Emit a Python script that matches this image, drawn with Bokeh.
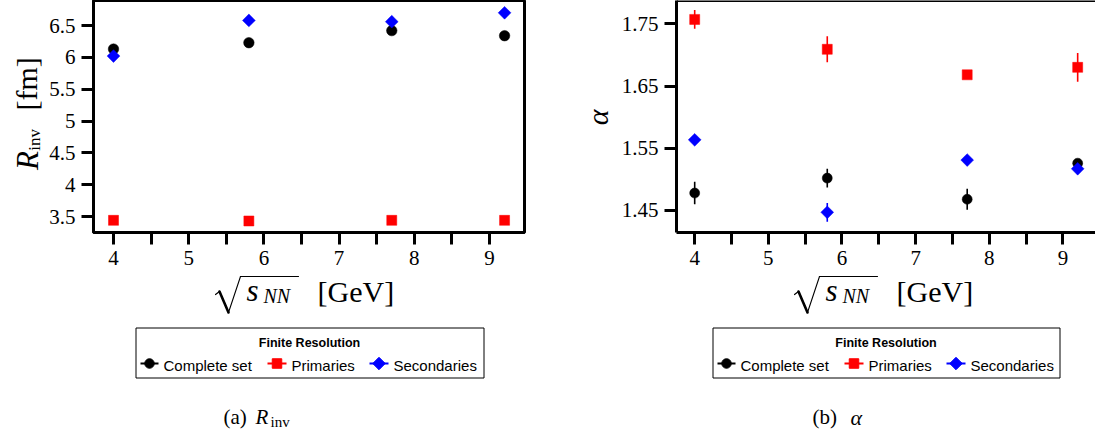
import math

from bokeh.core.properties import value
from bokeh.embed import file_html
from bokeh.layouts import column, row
from bokeh.models import FixedTicker, Range1d, Span
from bokeh.plotting import figure
from bokeh.resources import INLINE

# ---------------------------------------------------------------- data
energies = [4.0, 5.8, 7.7, 9.2]  # sqrt(s_NN) in GeV

rinv_complete = [6.13, 6.23, 6.42, 6.34]
rinv_primaries = [3.44, 3.43, 3.44, 3.44]
rinv_secondaries = [6.02, 6.58, 6.56, 6.70]

alpha_complete = [1.478, 1.502, 1.468, 1.526]
alpha_complete_err = [0.018, 0.015, 0.017, 0.005]
alpha_primaries = [1.757, 1.709, 1.668, 1.680]
alpha_primaries_err = [0.015, 0.021, 0.003, 0.023]
alpha_secondaries = [1.5635, 1.447, 1.531, 1.517]
alpha_secondaries_err = [0.003, 0.015, 0.004, 0.004]

series_names = ["Complete set", "Primaries", "Secondaries"]
series_colors = ["#000000", "#ff0000", "#0000ff"]
legend_title = "Finite Resolution"

x_ticks = [4, 5, 6, 7, 8, 9]
x_tick_labels = ["4", "5", "6", "7", "8", "9"]
x_minor_ticks = [4.5, 5.5, 6.5, 7.5, 8.5, 9.5]
rinv_ticks = [3.5, 4.0, 4.5, 5.0, 5.5, 6.0, 6.5]
rinv_tick_labels = ["3.5", "4", "4.5", "5", "5.5", "6", "6.5"]
alpha_ticks = [1.45, 1.55, 1.65, 1.75]
alpha_tick_labels = ["1.45", "1.55", "1.65", "1.75"]

# ---------------------------------------------------------------- layout constants
H = 436          # page height
TOP_H = 274      # height of the plotting row (frame + tick labels)
SERIF = "Liberation Serif"
SANS = "Liberation Sans"
BASELINE_LIFT = 0.24   # em offset so that the glyph baseline lands on the given y


def Y(y):
    """Page y (from the top) to the upward data axis of the pixel canvases."""
    return H - y


def pixel_fig(x0, x1, y0, y1):
    """A bare canvas whose data coordinates are page pixels."""
    p = figure(width=x1 - x0, height=y1 - y0,
               x_range=Range1d(x0, x1), y_range=Range1d(Y(y1), Y(y0)),
               x_axis_type=None, y_axis_type=None,
               output_backend="svg", toolbar_location=None,
               min_border_left=0, min_border_right=0,
               min_border_top=0, min_border_bottom=0)
    p.grid.visible = False
    p.outline_line_color = None
    return p


def txt(p, x, y, s, size, font=SERIF, style="normal", align="left"):
    """Horizontal text with its baseline at page y."""
    p.text(x=[x], y=[Y(y - BASELINE_LIFT * size)], text=[s], text_font=value(font),
           text_font_size=value(f"{size}px"), text_font_style=style,
           text_align=align, text_baseline="alphabetic", text_color="black")


def vtxt(p, x, y, s, size, style="normal"):
    """Text reading bottom-to-top around (x, y)."""
    p.text(x=[x], y=[Y(y)], text=[s], text_font=value(SERIF),
           text_font_size=value(f"{size}px"), text_font_style=style,
           text_align="center", text_baseline="middle", angle=math.pi / 2,
           text_color="black")


def x_label(p, ox):
    # radical sign, s_NN under it, then the unit
    p.segment(x0=[ox, ox + 4, ox + 13, ox + 25], y0=[Y(294), Y(291), Y(312), Y(276)],
              x1=[ox + 4, ox + 13, ox + 25, ox + 83], y1=[Y(291), Y(312), Y(276), Y(276)],
              line_width=[1.2, 2.6, 1.1, 1.2], line_color="black", line_cap="round")
    txt(p, ox + 31, 297, "s", 31, style="italic")
    txt(p, ox + 48, 300, "NN", 20, style="italic")
    txt(p, ox + 102, 298, "[GeV]", 30)


def legend(p, left, top, width):
    bottom = top + 50
    p.quad(left=[left + 0.5], right=[left + width + 0.5], top=[Y(top + 0.5)],
           bottom=[Y(bottom + 0.5)], fill_color=None, line_color="black", line_width=1)
    txt(p, left + width / 2, top + 18, legend_title, 12.5, font=SANS, style="bold",
        align="center")
    kinds = [("circle", 9.5, 0.0), ("square", 9.5, 0.0), ("square", 8.8, math.pi / 4)]
    line_spans = [(5, 23), (132, 151), (234, 253)]
    text_x = [28, 156, 258]
    cy = top + 36
    for name, color, (marker, size, ang), (a, b), tx in zip(
            series_names, series_colors, kinds, line_spans, text_x):
        p.segment(x0=[left + a], y0=[Y(cy)], x1=[left + b], y1=[Y(cy)],
                  line_color=color, line_width=2)
        p.scatter(x=[left + (a + b) / 2], y=[Y(cy)], marker=marker, size=size,
                  angle=ang, fill_color=color, line_color=color)
        txt(p, left + tx, cy + 6, name, 15, font=SANS)


def main_fig(width, x_range, y_range, border_left, border_right, yticks, ylabels):
    p = figure(width=width, height=TOP_H, x_range=x_range, y_range=y_range,
               output_backend="svg", toolbar_location=None,
               min_border_left=border_left, min_border_right=border_right,
               min_border_top=0, min_border_bottom=TOP_H - 232)
    p.grid.visible = False

    xa = p.xaxis[0]
    xa.ticker = FixedTicker(ticks=x_ticks, minor_ticks=x_minor_ticks)
    xa.major_label_overrides = dict(zip(x_ticks, x_tick_labels))
    ya = p.yaxis[0]
    ya.ticker = FixedTicker(ticks=yticks, minor_ticks=[])
    ya.major_label_overrides = dict(zip(yticks, ylabels))

    for ax in (xa, ya):
        ax.axis_line_width = 3
        ax.axis_line_color = "black"
        ax.major_tick_line_width = 3
        ax.minor_tick_line_width = 3
        ax.major_tick_out = 12
        ax.major_tick_in = 0
        ax.minor_tick_out = 12
        ax.minor_tick_in = 0
        ax.major_label_text_font = SERIF
        ax.major_label_text_font_size = "21px"
        ax.major_label_text_color = "black"
        ax.major_label_standoff = 6
    return p


def draw_series(p, ys, errs, sizes):
    circle_size, square_size, diamond_size = sizes
    kinds = [("circle", circle_size, 0.0), ("square", square_size, 0.0),
             ("square", diamond_size, math.pi / 4)]
    for vals, err, color, (marker, size, ang) in zip(ys, errs, series_colors, kinds):
        if err is not None:
            p.segment(x0=energies, x1=energies,
                      y0=[v - e for v, e in zip(vals, err)],
                      y1=[v + e for v, e in zip(vals, err)],
                      line_color=color, line_width=1.6)
        p.scatter(x=energies, y=vals, marker=marker, size=size, angle=ang,
                  fill_color=color, line_color=color, line_width=0.5)


# ---------------------------------------------------------------- (a) R_inv
ya_fig = pixel_fig(0, 46, 0, TOP_H)
vtxt(ya_fig, 26.5, 189, "R", 31, style="italic")
vtxt(ya_fig, 33.5, 164.5, "inv", 17)
vtxt(ya_fig, 26, 98.5, "[fm]", 30)

pa = main_fig(501, Range1d(3.734, 9.465), Range1d(3.249, 6.893), 47, 23,
              rinv_ticks, rinv_tick_labels)
pa.outline_line_color = "black"
pa.outline_line_width = 3
draw_series(pa, [rinv_complete, rinv_primaries, rinv_secondaries],
            [None, None, None], (10.5, 10, 9))

bot_a = pixel_fig(0, 547, TOP_H, H)
x_label(bot_a, 215)
legend(bot_a, 135, 327, 348)
txt(bot_a, 223, 422, "(a)", 21)
txt(bot_a, 255, 422, "R", 21, style="italic")
txt(bot_a, 270, 425, "inv", 15)

# ---------------------------------------------------------------- (b) alpha
yb_fig = pixel_fig(547, 618, 0, TOP_H)
vtxt(yb_fig, 597, 138, "α", 30, style="italic")

pb = main_fig(477, Range1d(3.753, 9.442), Range1d(1.4146, 1.7874), 56, 0,
              alpha_ticks, alpha_tick_labels)
pb.outline_line_color = None
pb.add_layout(Span(location=1.7874, dimension="width", line_color="black", line_width=3))
draw_series(pb, [alpha_complete, alpha_primaries, alpha_secondaries],
            [alpha_complete_err, alpha_primaries_err, alpha_secondaries_err],
            (10, 10, 9))

bot_b = pixel_fig(547, 1095, TOP_H, H)
x_label(bot_b, 794)
legend(bot_b, 712, 327, 347)
txt(bot_b, 812, 422, "(b)", 21)
txt(bot_b, 850, 422, "α", 22, style="italic")

layout = row(column(row(ya_fig, pa), bot_a), column(row(yb_fig, pb), bot_b))
open("out.html", "w").write(file_html(layout, INLINE))
